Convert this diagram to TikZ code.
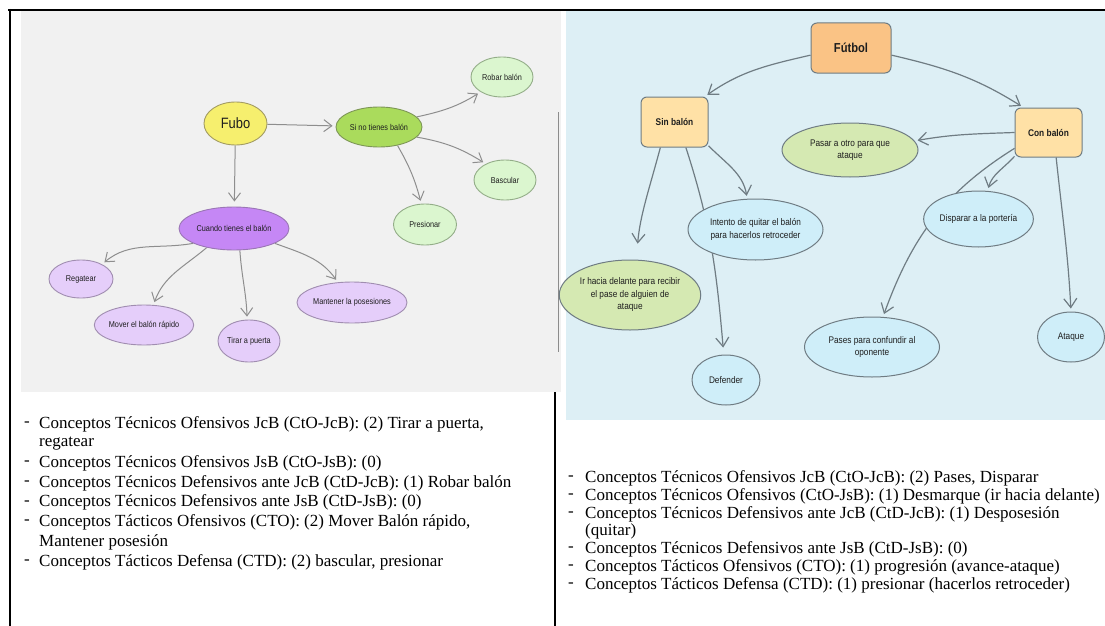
\documentclass[tikz,border=0pt]{standalone}
\usepackage{fontspec}
\setmainfont{Liberation Serif}
\newfontfamily\nf[FakeStretch=0.86]{Liberation Sans}
\usetikzlibrary{shapes.geometric,arrows.meta}
\pgfdeclarelayer{back}
\pgfdeclarelayer{mid}
\pgfsetlayers{back,mid,main}
\definecolor{lbg}{HTML}{F1F1F1}
\definecolor{rbg}{HTML}{DDEFF5}
\definecolor{yel}{HTML}{F6EF6E}
\definecolor{yelb}{HTML}{A39C63}
\definecolor{grn}{HTML}{AADB5C}
\definecolor{grnb}{HTML}{7D9656}
\definecolor{lgrn}{HTML}{DBF6CF}
\definecolor{lgrnb}{HTML}{93AD88}
\definecolor{pur}{HTML}{C587F5}
\definecolor{purb}{HTML}{9A76B5}
\definecolor{lpur}{HTML}{E5CEFA}
\definecolor{lpurb}{HTML}{A08DB0}
\definecolor{larrc}{HTML}{8E8E8E}
\definecolor{orn}{HTML}{FAC385}
\definecolor{lorn}{HTML}{FFE1A6}
\definecolor{rgrn}{HTML}{D5E9B2}
\definecolor{rblu}{HTML}{CFEEF9}
\definecolor{rline}{HTML}{6F7C83}
\definecolor{txt}{HTML}{1E1E1E}
\begin{document}
\begin{tikzpicture}[x=1pt,y=-1pt,
  lel/.style={ellipse, inner sep=0pt, line width=0.9pt, align=center, text=txt, font=\nf\fontsize{8.5}{10}\selectfont},
  rel/.style={ellipse, inner sep=0pt, line width=1pt, draw=rline, align=center, text=txt, font=\nf\fontsize{9.6}{12.5}\selectfont},
  rbox/.style={rectangle, rounded corners=6pt, draw=rline, line width=1pt, inner sep=0pt, text=txt},
  larr/.style={draw=larrc, line width=1pt, shorten >=3pt, -{Straight Barb[length=8pt,width=12pt]}},
  rarr/.style={draw=rline, line width=1.2pt, shorten >=3pt, -{Straight Barb[length=9pt,width=13pt]}},
  item/.style={anchor=west, inner sep=0pt, text=black, font=\fontsize{17}{19}\selectfont},
  dashmark/.style={anchor=west, inner sep=0pt, text=black, font=\fontsize{17}{19}\selectfont},
  frame/.style={draw=black}
]
\useasboundingbox (0,0) rectangle (1105,626);
% screenshot backgrounds
\begin{pgfonlayer}{back}
\fill[white] (0,0) rectangle (1105,626);
\fill[lbg] (21,10) rectangle (561,392);
\fill[rbg] (566,10) rectangle (1105,420);
\draw[color=black!45, line width=1pt] (558,112) -- (558,352);
\end{pgfonlayer}
% frame lines
\draw[frame, line width=1.5pt] (8,10) -- (1105,10);
\draw[frame, line width=2pt] (9.5,9) -- (9.5,626);
\draw[frame, line width=2pt] (555,392) -- (555,626);

% ---------- left diagram ----------
\node[lel, fill=yel, draw=yelb, minimum width=63, minimum height=43, font=\nf\fontsize{15}{17}\selectfont] (fubo) at (235.5,123.5) {Fubo};
\node[lel, fill=grn, draw=grnb, minimum width=86, minimum height=40] (sino) at (379,127) {Si no tienes balón};
\node[lel, fill=lgrn, draw=lgrnb, minimum width=62, minimum height=40] (robar) at (502,77) {Robar balón};
\node[lel, fill=lgrn, draw=lgrnb, minimum width=62, minimum height=40] (bascular) at (505,180) {Bascular};
\node[lel, fill=lgrn, draw=lgrnb, minimum width=63, minimum height=41] (presionar) at (425,224.5) {Presionar};
\node[lel, fill=pur, draw=purb, minimum width=110, minimum height=43] (cuando) at (234,228.5) {Cuando tienes el balón};
\node[lel, fill=lpur, draw=lpurb, minimum width=64, minimum height=38] (regatear) at (81,279) {Regatear};
\node[lel, fill=lpur, draw=lpurb, minimum width=98, minimum height=40] (mover) at (144,325) {Mover el balón rápido};
\node[lel, fill=lpur, draw=lpurb, minimum width=62, minimum height=42] (tirar) at (249,341) {Tirar a puerta};
\node[lel, fill=lpur, draw=lpurb, minimum width=110, minimum height=41] (mantener) at (352,302.5) {Mantener la posesiones};

\begin{pgfonlayer}{mid}
\draw[larr] (fubo) -- (sino);
\draw[larr, shorten >=5pt] (fubo) -- (cuando);
\draw[larr] (sino.15) to[out=12,in=212] (robar.215);
\draw[larr] (sino.-15) to[out=-10,in=148] (bascular.140);
\draw[larr] (sino.-45) to[out=-60,in=105] (presionar.100);
\draw[larr] (cuando.200) to[out=190,in=40] (regatear.35);
\draw[larr] (cuando.215) to[out=220,in=70] (mover.65);
\draw[larr] (cuando.-75) to[out=-86,in=92] (tirar.95);
\draw[larr] (cuando.-20) to[out=-20,in=125] (mantener.125);
\end{pgfonlayer}

% ---------- right diagram ----------
\node[rbox, fill=orn, minimum width=80, minimum height=50, font=\nf\bfseries\fontsize{13}{15}\selectfont] (futbol) at (851,48) {Fútbol};
\node[rbox, fill=lorn, minimum width=67, minimum height=50, font=\nf\bfseries\fontsize{9.7}{12}\selectfont] (sin) at (674.5,122) {Sin balón};
\node[rbox, fill=lorn, minimum width=67, minimum height=49, font=\nf\bfseries\fontsize{9.7}{12}\selectfont] (con) at (1048.5,132.5) {Con balón};
\node[rel, fill=rgrn, minimum width=136, minimum height=54] (pasar) at (850,150) {Pasar a otro para que\\ataque};
\node[rel, fill=rblu, minimum width=109, minimum height=56] (disparar) at (978.5,219) {Disparar a la portería};
\node[rel, fill=rblu, minimum width=135, minimum height=60] (pases) at (872,347) {Pases para confundir al\\oponente};
\node[rel, fill=rblu, minimum width=67, minimum height=50] (ataque) at (1071,337) {Ataque};
\node[rel, fill=rblu, minimum width=135, minimum height=61] (intento) at (755.5,229.5) {Intento de quitar el balón\\para hacerlos retroceder};
\node[rel, fill=rgrn, minimum width=126, minimum height=70] (ir) at (630,295) {Ir hacia delante para recibir\\el pase de alguien de\\ataque};
\node[rel, fill=rblu, minimum width=68, minimum height=50] (defender) at (726,380) {Defender};

\begin{pgfonlayer}{mid}
\draw[rarr] (futbol.190) to[out=193,in=35] (sin.40);
\draw[rarr] (futbol.-10) to[out=-13,in=148] (con.135);
\draw[rarr] (con.180) to[out=182,in=10] (pasar.8);
\draw[rarr] (con.215) to[out=228,in=75] (disparar.72);
\draw[rarr] (con.205) to[out=212,in=70] (pases.70);
\draw[rarr] (con.-73) to[out=-84,in=93] (ataque.90);
\draw[rarr] (sin.-35) to[out=-45,in=100] (intento.105);
\draw[rarr, shorten >=16pt] (sin.-119) to[out=-105,in=85] (ir.80);
\draw[rarr, shorten >=7pt] (sin.-66) to[out=-72,in=95] (defender.95);
\end{pgfonlayer}

% ---------- left list ----------
\node[dashmark] (ld1) at (24,424) {-};
\node[item] (lt1) at (39,424) {Conceptos Técnicos Ofensivos JcB (CtO-JcB): (2) Tirar a puerta,};
\node[item] (lt1b) at (39,443.7) {regatear};
\node[dashmark] (ld2) at (24,463.4) {-};
\node[item] (lt2) at (39,463.4) {Conceptos Técnicos Ofensivos JsB (CtO-JsB): (0)};
\node[dashmark] (ld3) at (24,483) {-};
\node[item] (lt3) at (39,483) {Conceptos Técnicos Defensivos ante JcB (CtD-JcB): (1) Robar balón};
\node[dashmark] (ld4) at (24,502.8) {-};
\node[item] (lt4) at (39,502.8) {Conceptos Técnicos Defensivos ante JsB (CtD-JsB): (0)};
\node[dashmark] (ld5) at (24,522.5) {-};
\node[item] (lt5) at (39,522.5) {Conceptos Tácticos Ofensivos (CTO): (2) Mover Balón rápido,};
\node[item] (lt5b) at (39,542) {Mantener posesión};
\node[dashmark] (ld6) at (24,562) {-};
\node[item] (lt6) at (39,562) {Conceptos Tácticos Defensa (CTD): (2) bascular, presionar};

% ---------- right list ----------
\node[dashmark] (rd1) at (568,478) {-};
\node[item] (rt1) at (585,478) {Conceptos Técnicos Ofensivos JcB (CtO-JcB): (2) Pases, Disparar};
\node[dashmark] (rd2) at (568,496) {-};
\node[item] (rt2) at (585,496) {Conceptos Técnicos Ofensivos (CtO-JsB): (1) Desmarque (ir hacia delante)};
\node[dashmark] (rd3) at (568,514) {-};
\node[item] (rt3) at (585,514) {Conceptos Técnicos Defensivos ante JcB (CtD-JcB): (1) Desposesión};
\node[item] (rt3b) at (585,531) {(quitar)};
\node[dashmark] (rd4) at (568,549) {-};
\node[item] (rt4) at (585,549) {Conceptos Técnicos Defensivos ante JsB (CtD-JsB): (0)};
\node[dashmark] (rd5) at (568,567) {-};
\node[item] (rt5) at (585,567) {Conceptos Tácticos Ofensivos (CTO): (1) progresión (avance-ataque)};
\node[dashmark] (rd6) at (568,585) {-};
\node[item] (rt6) at (585,585) {Conceptos Tácticos Defensa (CTD): (1) presionar (hacerlos retroceder)};
\end{tikzpicture}
\end{document}
